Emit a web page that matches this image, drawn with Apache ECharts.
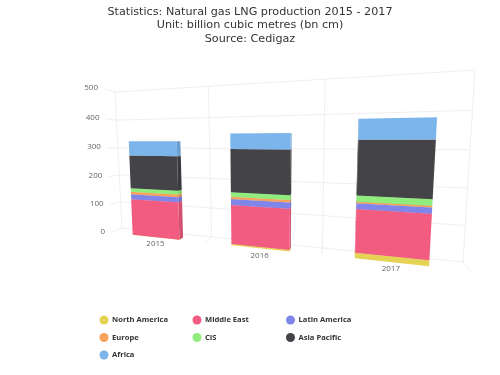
<!DOCTYPE html>
<html lang="en">
<head>
	<meta charset="UTF-8">
	<title>Natural gas LNG production</title>
	<style>
		* { margin: 0; padding: 0; }
		#box { width: 500px; height: 375px; }
	</style>
	<script src="https://cdn.jsdelivr.net/npm/echarts@6/dist/echarts.min.js"></script>
</head>
<body>
<div id="box"></div>
<script>
	const years = ['2015', '2016', '2017'];
	const yTicks = [0, 100, 200, 300, 400, 500];

	// values, bottom of the stack first
	const northAmerica = [0, 4, 16];
	const middleEast = [125, 124, 123];
	const latinAmerica = [17, 18.5, 16];
	const europe = [9, 7, 4.5];
	const cis = [12, 14, 17];
	const asiaPacific = [112, 132, 151];
	const africa = [48, 47, 55];

	const stack = [
		['North America', northAmerica, '#e4d354'],
		['Middle East', middleEast, '#f15c80'],
		['Latin America', latinAmerica, '#8085e9'],
		['Europe', europe, '#f7a35c'],
		['CIS', cis, '#90ed7d'],
		['Asia Pacific', asiaPacific, '#434348'],
		['Africa', africa, '#7cb5ec'],
	];

	// the 3d box as seen on screen: top-left, top-right, bottom-right, bottom-left
	const backWall = [[115, 92], [475, 70], [463, 262], [122, 228]];
	const frontPlane = [[104, 89], [483.7, 66], [470, 270.5], [111, 232.5]];
	const barDepth = 0.45;   // how far a bar reaches from the front plane to the wall
	const barWidth = 0.5;    // share of a category band

	function homography(q) {
		const [[x0, y0], [x1, y1], [x2, y2], [x3, y3]] = q;
		const dx1 = x1 - x2, dx2 = x3 - x2, sx = x0 - x1 + x2 - x3;
		const dy1 = y1 - y2, dy2 = y3 - y2, sy = y0 - y1 + y2 - y3;
		const den = dx1 * dy2 - dx2 * dy1;
		const g = (sx * dy2 - dx2 * sy) / den;
		const h = (dx1 * sy - sx * dy1) / den;
		return function (s, r) {
			const w = g * s + h * r + 1;
			return [
				((x1 - x0 + g * x1) * s + (x3 - x0 + h * x3) * r + x0) / w,
				((y1 - y0 + g * y1) * s + (y3 - y0 + h * y3) * r + y0) / w,
			];
		};
	}

	const onWall = homography(backWall);
	const onFront = homography(frontPlane);

	// flat pixel from the hidden axes -> share of the plot area
	function share(pt, cs) {
		return [(pt[0] - cs.x) / cs.width, (pt[1] - cs.y) / cs.height];
	}

	function mix(a, b, t) {
		return [a[0] + (b[0] - a[0]) * t, a[1] + (b[1] - a[1]) * t];
	}

	function shade(color, f) {
		const c = echarts.color.parse(color);
		return echarts.color.stringify([c[0] * f | 0, c[1] * f | 0, c[2] * f | 0, 1], 'rgb');
	}

	function quad(points, fill, z2) {
		return { type: 'polygon', z2: z2, shape: { points: points }, style: { fill: fill } };
	}

	function line(a, b) {
		return {
			type: 'line',
			shape: { x1: a[0], y1: a[1], x2: b[0], y2: b[1] },
			style: { stroke: '#e6e6e6', lineWidth: 1, opacity: 0.65 },
		};
	}

	function label(text, x, y, align) {
		return {
			type: 'text',
			style: {
				text: text, x: x, y: y, align: align, verticalAlign: 'middle',
				fill: '#666', font: '8px "Open Sans"',
			},
		};
	}

	function renderBar(params, api) {
		const cs = params.coordSys;
		const cat = api.value(0);
		const half = api.size([1, 0])[0] * barWidth / 2;
		const low = api.coord([cat, api.value(1)]);
		const high = api.coord([cat, api.value(2)]);
		const corners = [
			share([high[0] - half, high[1]], cs), share([high[0] + half, high[1]], cs),
			share([low[0] + half, low[1]], cs), share([low[0] - half, low[1]], cs),
		];
		const front = corners.map(c => onFront(c[0], c[1]));
		const back = corners.map((c, i) => mix(front[i], onWall(c[0], c[1]), barDepth));
		const color = api.visual('color');
		const side = shade(color, 0.87);
		const children = [];
		if (back[1][0] > front[1][0]) {
			children.push(quad([front[1], back[1], back[2], front[2]], side, 1));
		}
		if (back[0][0] < front[0][0]) {
			children.push(quad([front[0], back[0], back[3], front[3]], side, 1));
		}
		if (back[0][1] < front[0][1]) {
			children.push(quad([front[0], front[1], back[1], back[0]], color, 1));
		}
		children.push(quad(front, color, 2));
		return { type: 'group', children: children };
	}

	function renderYGrid(params, api) {
		const cs = params.coordSys;
		const r = share(api.coord([0, api.value(1)]), cs)[1];
		const a = onFront(0, r), b = onWall(0, r), c = onWall(1, r);
		return {
			type: 'group',
			children: [line(a, b), line(b, c), label(String(api.value(1)), a[0] - 6, a[1] - 1, 'right')],
		};
	}

	function renderXGrid(params, api) {
		const cs = params.coordSys;
		const band = api.size([1, 0])[0];
		const i = api.value(0);
		const x = api.coord([i, 0])[0];
		const mid = share([x, cs.y + cs.height], cs);
		const s = share([x + band / 2, cs.y + cs.height], cs)[0];
		const pos = onFront(mid[0], 1);
		const children = [
			line(onWall(s, 0), onWall(s, 1)),
			line(onWall(s, 1), onFront(s, 1)),
			label(years[i], pos[0], pos[1] + 7, 'center'),
		];
		if (i === 0) {
			children.push(line(onWall(0, 0), onWall(0, 1)));
		}
		return { type: 'group', children: children };
	}

	const myEcharts = echarts.init(document.getElementById('box'));

	const barSeries = stack.map(function (item, k) {
		return {
			name: item[0],
			type: 'custom',
			renderItem: renderBar,
			silent: true,
			clip: false,
			z: 3,
			itemStyle: { color: item[2] },
			encode: { x: 0, y: [1, 2] },
			data: item[1].map(function (v, i) {
				let base = 0;
				for (let j = 0; j < k; j++) {
					base += stack[j][1][i];
				}
				return [i, base, base + v];
			}),
		};
	});

	function legendColumn(names, left) {
		return {
			data: names,
			left: left,
			top: 310.5,
			orient: 'vertical',
			icon: 'circle',
			itemWidth: 9,
			itemHeight: 9,
			itemGap: 8.5,
			selectedMode: false,
			textStyle: {
				color: '#333', fontSize: 7.6, fontWeight: 'bold',
				fontFamily: 'Open Sans', padding: [0, 0, 0, -1.5],
			},
		};
	}

	myEcharts.setOption({
		animation: false,
		title: {
			text: 'Statistics: Natural gas LNG production 2015 - 2017\nUnit: billion cubic metres (bn cm)\nSource: Cedigaz',
			left: 'center',
			top: 0,
			textStyle: {
				color: '#333', fontSize: 11.2, fontWeight: 'normal',
				fontFamily: 'DejaVu Sans', lineHeight: 13.5,
			},
		},
		legend: [
			legendColumn(['North America', 'Europe', 'Africa'], 94.5),
			legendColumn(['Middle East', 'CIS'], 187.5),
			legendColumn(['Latin America', 'Asia Pacific'], 281),
		],
		grid: { left: 100, top: 80, width: 360, height: 180 },
		xAxis: { type: 'category', data: years, show: false },
		yAxis: { type: 'value', min: 0, max: 500, interval: 100, show: false },
		series: [
			{
				type: 'custom', renderItem: renderYGrid, silent: true, clip: false, z: 1,
				encode: { x: 0, y: 1 },
				data: yTicks.map(v => [0, v]),
			},
			{
				type: 'custom', renderItem: renderXGrid, silent: true, clip: false, z: 1,
				encode: { x: 0, y: 1 },
				data: years.map((y, i) => [i, 0]),
			},
		].concat(barSeries),
	});
</script>
</body>
</html>
